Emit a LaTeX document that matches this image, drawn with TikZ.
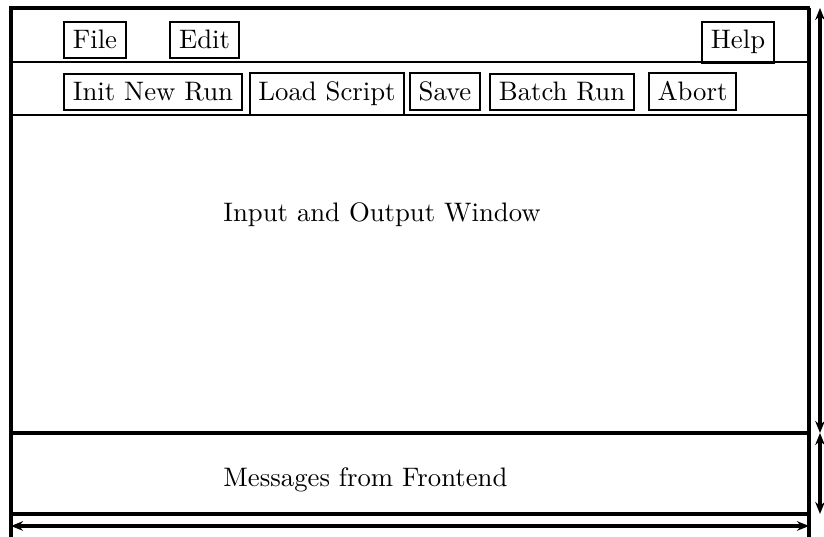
\documentclass[tikz,border=0pt]{standalone}
\usetikzlibrary{arrows.meta}
\begin{document}
\begin{tikzpicture}[x=0.374pt,y=-0.374pt,>={Stealth[length=4.5pt,width=3.6pt]},
      frame/.style={line width=1.4pt},
      sepline/.style={line width=0.95pt},
      dim/.style={<->,line width=1.2pt},
      btn/.style={draw,line width=0.8pt,inner sep=3.3pt,anchor=base},
      msg/.style={anchor=base west}]
      \useasboundingbox (0,0) rectangle (824,537);
      % window frame
      \draw[frame] (11,537) -- (11,8) -- (810,8);
      \draw[frame] (809,8) -- (809,537);
      \draw[sepline] (11,62) -- (809,62);
      \draw[sepline] (11,115) -- (809,115);
      \draw[frame] (11,433) -- (809,433);
      \draw[frame] (11,514) -- (809,514);
      % menu bar
      \node[btn] (file) at (95,49) {File};
      \node[btn] (edit) at (204.5,49) {Edit};
      \node[btn] (help) at (738,49) {Help};
      % tool bar
      \node[btn] (init) at (153,101) {Init New Run};
      \node[btn] (load) at (327,101) {Load Script};
      \node[btn] (save) at (445,101) {Save};
      \node[btn] (batch) at (562,101) {Batch Run};
      \node[btn] (abort) at (692.5,101) {Abort};
      % areas
      \node[msg] (io) at (214,222) {Input and Output Window};
      \node[msg] (messages) at (214,487) {Messages from Frontend};
      % dimensions
      \coordinate (top) at (820,8);
      \coordinate (mid) at (820,433);
      \coordinate (bot) at (820,514);
      \coordinate (left) at (11,526);
      \coordinate (right) at (809,526);
      \draw[dim] (mid) -- (top);
      \draw[dim] (mid) -- (bot);
      \draw[dim] (left) -- (right);
    \end{tikzpicture}
\end{document}
